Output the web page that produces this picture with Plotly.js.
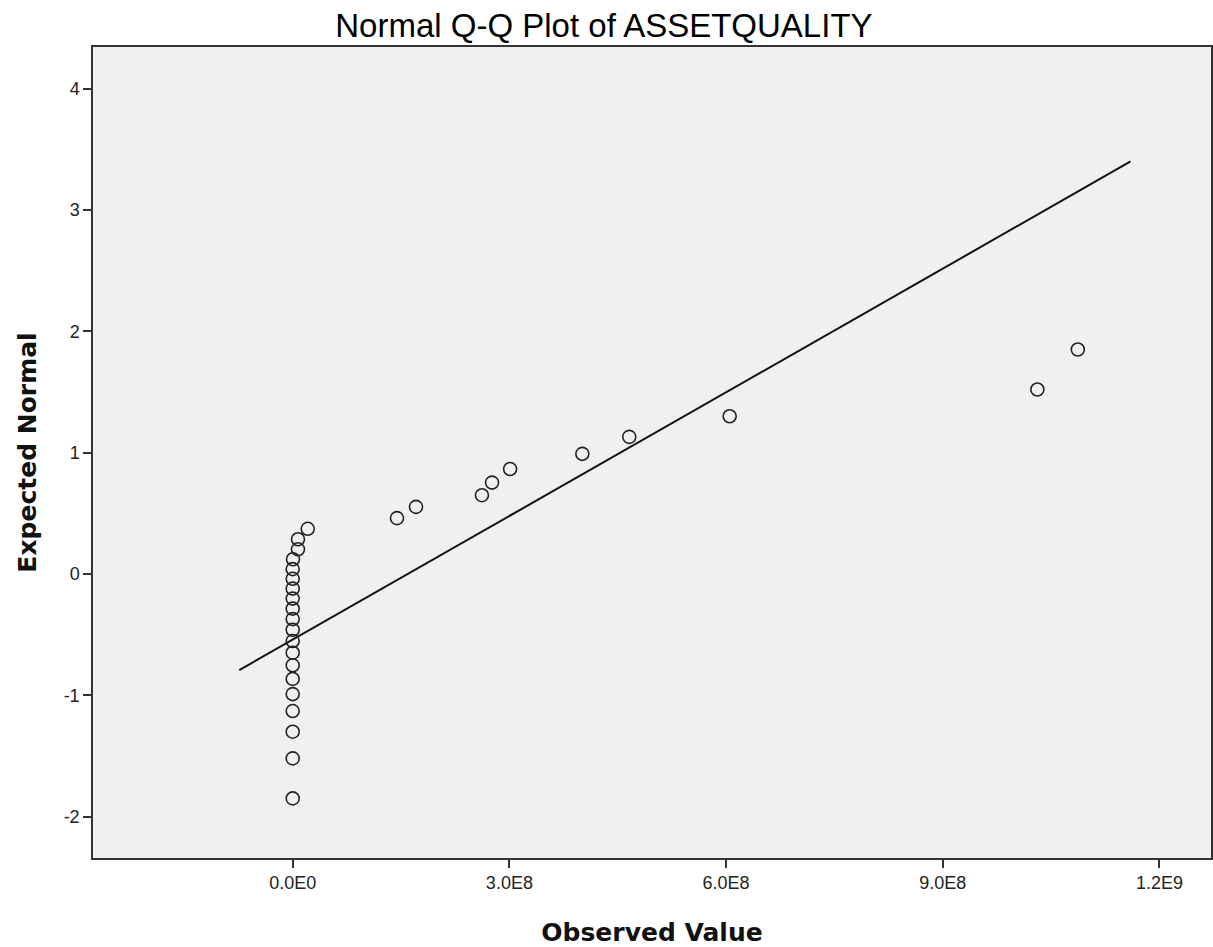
<!DOCTYPE html>
<html>
<head>
<meta charset="utf-8">
<script src="https://cdn.plot.ly/plotly-3.0.1.min.js"></script>
<style>html,body{margin:0;padding:0;background:#fff;}#chart{width:1213px;height:947px;}</style>
</head>
<body>
<div id="chart"></div>
<script>
const observed = [
  0, 0, 0, 0, 0, 0, 0, 0, 0, 0,
  0, 0, 0, 0, 0, 0, 4e5, 7.3e6, 7.3e6, 2.08e7,
  1.444e8, 1.707e8, 2.62e8, 2.76e8, 3.01e8, 4.01e8, 4.66e8, 6.05e8, 1.031e9, 1.087e9
];
// Expected normal values
const expected = [
  -1.85, -1.52, -1.30, -1.13, -0.99, -0.865, -0.753, -0.649, -0.553, -0.460,
  -0.372, -0.286, -0.203, -0.121, -0.040, 0.040, 0.121, 0.203, 0.286, 0.372,
  0.460, 0.553, 0.649, 0.753, 0.865, 0.99, 1.13, 1.30, 1.52, 1.85
];
// Reference line extent on the observed axis
const lineX = [-7.4e7, 1.16e9];
const xTickVals = [0, 3e8, 6e8, 9e8, 1.2e9];
const xTickText = ['0.0E0', '3.0E8', '6.0E8', '9.0E8', '1.2E9'];
const yTickVals = [-2, -1, 0, 1, 2, 3, 4];
const yTickText = ['-2', '-1', '0', '1', '2', '3', '4'];

const n = observed.length;
const mean = observed.reduce((a, b) => a + b, 0) / n;
const sd = Math.sqrt(observed.reduce((a, b) => a + (b - mean) * (b - mean), 0) / (n - 1));
const lineY = lineX.map(v => (v - mean) / sd);

const traces = [
  {
    x: lineX, y: lineY, type: 'scatter', mode: 'lines',
    line: {color: '#111', width: 2}, hoverinfo: 'skip'
  },
  {
    x: observed, y: expected, type: 'scatter', mode: 'markers',
    marker: {symbol: 'circle-open', size: 13, color: '#222', line: {width: 1.6, color: '#222'}}
  }
];

const axisTitleFont = {family: 'DejaVu Sans, Verdana, sans-serif', size: 25, color: '#111', weight: 'bold'};
const tickFont = {family: 'Liberation Sans, Arial, sans-serif', size: 18, color: '#222'};

const layout = {
  width: 1213, height: 947,
  margin: {l: 93, r: 2, t: 47, b: 89},
  paper_bgcolor: '#ffffff',
  plot_bgcolor: '#f0f0f0',
  showlegend: false,
  font: {family: 'Liberation Sans, Arial, sans-serif', color: '#222'},
  title: {
    text: 'Normal Q-Q Plot of ASSETQUALITY',
    font: {family: 'Liberation Sans, Arial, sans-serif', size: 33, color: '#000'},
    x: 0.457, xanchor: 'center', xref: 'paper', y: 0.9736, yanchor: 'middle'
  },
  xaxis: {
    range: [-2.765e8, 1.2714e9],
    tickvals: xTickVals, ticktext: xTickText,
    ticks: 'outside', ticklen: 8, tickwidth: 1.5, tickcolor: '#333',
    tickfont: tickFont,
    showgrid: false, zeroline: false,
    showline: true, linecolor: '#333', linewidth: 1.5, mirror: true,
    title: {text: 'Observed Value', font: axisTitleFont, standoff: 32}
  },
  yaxis: {
    range: [-2.341, 4.343],
    tickvals: yTickVals, ticktext: yTickText,
    ticks: 'outside', ticklen: 8, tickwidth: 1.5, tickcolor: '#333',
    tickfont: tickFont,
    showgrid: false, zeroline: false,
    showline: true, linecolor: '#333', linewidth: 1.5, mirror: true,
    title: {text: 'Expected Normal', font: axisTitleFont, standoff: 20}
  }
};

Plotly.newPlot('chart', traces, layout, {displayModeBar: false, responsive: false});
</script>
</body>
</html>
